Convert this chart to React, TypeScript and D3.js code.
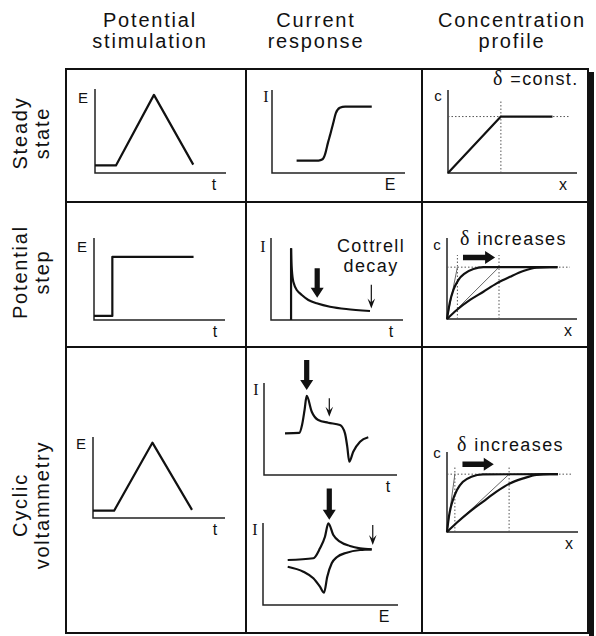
import React from "react";
import * as d3 from "d3";

// ---------- text ----------
const headers = [["Potential", "stimulation"], ["Current", "response"], ["Concentration", "profile"]];
const rowLabels = [["Steady", "state"], ["Potential", "step"], ["Cyclic", "voltammetry"]];

// ---------- data (each mini plot uses a 0..10 by 0..10 domain) ----------
// triangular potential sweep (E vs t)
const sweepT = [0, 1.6, 4.5, 7.5];
const sweepE = [0.9, 0.9, 9.3, 1.0];
// potential step (E vs t)
const stepT = [0, 1.4, 1.4, 7.6];
const stepE = [0.5, 0.5, 7.7, 7.7];
// steady-state sigmoid (I vs E)
const sigE = [1.85, 3.5, 3.8, 4.0, 4.2, 4.4, 4.6, 4.8, 5.1, 5.5, 7.5];
const sigI = [1.5, 1.5, 1.65, 2.3, 3.6, 4.75, 6.0, 7.2, 7.85, 8.0, 8.0];
// steady-state concentration profile
const ssX = [0, 4.1, 8.1];
const ssC = [0, 6.8, 6.8];
const ssDelta = 4.1;
const ssBulk = 6.8;
// Cottrell decay (I vs t)
const cotStepT = 1.52;
const cotT = [1.52, 1.57, 1.69, 1.95, 2.33, 2.83, 3.46, 4.47, 5.7, 7.5];
const cotI = [8.74, 6.3, 4.67, 3.66, 3.05, 2.44, 2.04, 1.62, 1.34, 1.1];
// potential-step concentration profiles
const stepFastX = [0, 0.23, 0.49, 0.87, 1.38, 2.03, 2.8, 8.5];
const stepFastC = [0, 2.14, 3.58, 4.81, 5.64, 6.17, 6.4, 6.4];
const stepSlowX = [0, 0.75, 1.77, 2.8, 3.82, 4.85, 5.87, 6.9, 7.92, 8.5];
const stepSlowC = [0, 1.11, 2.35, 3.37, 4.4, 5.22, 5.93, 6.33, 6.4, 6.4];
const stepDeltas = [0.8, 4.0];
const stepBulk = 6.4;
// cyclic voltammetry current vs time
const cvtT = [1.58, 2.65, 2.86, 3.05, 3.21, 3.59, 4.08, 4.83, 5.71, 6.09, 6.26, 6.41, 6.71, 7.22, 7.84];
const cvtI = [4.53, 4.57, 5.43, 7.07, 8.59, 6.88, 5.98, 5.68, 5.43, 4.53, 3.08, 1.45, 2.53, 3.62, 4.1];
// cyclic voltammogram, forward and reverse branches (I vs E)
const cvFwdE = [1.83, 3.73, 4.22, 4.59, 4.84, 5.21, 5.7, 6.44, 7.19, 8.05];
const cvFwdI = [5.49, 5.7, 6.91, 8.33, 9.96, 8.54, 7.72, 7.2, 6.91, 6.79];
const cvRevE = [1.83, 2.99, 3.73, 4.22, 4.52, 4.76, 5.09, 5.46, 6.2, 7.19, 8.05];
const cvRevI = [4.67, 4.06, 3.26, 2.23, 1.5, 3.45, 5.09, 5.82, 6.38, 6.71, 6.79];
// CV concentration profiles
const cvFastX = [0, 0.15, 0.41, 0.76, 1.22, 1.86, 2.75, 8.47];
const cvFastC = [0, 1.95, 3.8, 5.25, 6.28, 6.9, 7.2, 7.23];
const cvSlowX = [0, 0.72, 1.74, 2.76, 3.78, 4.8, 5.82, 6.84, 7.86, 8.47];
const cvSlowC = [0, 1.12, 2.55, 3.8, 5.04, 6.07, 6.7, 7.15, 7.23, 7.23];
const cvDeltas = [0.6, 4.74];
const cvBulk = 7.23;

// ---------- layout ----------
const W = 596, H = 636;
const colX = [66, 246, 422, 588];
const rowY = [69, 202, 347, 633];
const sans = "'Liberation Sans', Arial, Helvetica, sans-serif";
const serif = "'Liberation Serif', 'Times New Roman', serif";
const INK = "#111";

type Box = { x0: number; y0: number; x1: number; y1: number };
type Pt = [number, number];
const zip = (xs: number[], ys: number[]): Pt[] => xs.map((x, i) => [x, ys[i]]);

const boxes: Record<string, Box> = {
  sweep1: { x0: 95, y0: 173, x1: 226, y1: 89 },
  sig: { x0: 272, y0: 173, x1: 405, y1: 90 },
  ss: { x0: 448, y0: 173, x1: 577, y1: 90 },
  step: { x0: 94, y0: 320, x1: 225, y1: 238 },
  cot: { x0: 271, y0: 320, x1: 403, y1: 238 },
  stepc: { x0: 447, y0: 319, x1: 577, y1: 238 },
  sweep2: { x0: 93, y0: 518, x1: 225, y1: 437 },
  cvt: { x0: 264, y0: 475, x1: 397, y1: 383 },
  cv: { x0: 263, y0: 605, x1: 398, y1: 523 },
  cvc: { x0: 447, y0: 532, x1: 578, y1: 452 },
};

function scales(b: Box) {
  return {
    sx: d3.scaleLinear().domain([0, 10]).range([b.x0, b.x1]),
    sy: d3.scaleLinear().domain([0, 10]).range([b.y0, b.y1]),
  };
}

function linePath(b: Box, pts: Pt[], curve: d3.CurveFactory = d3.curveLinear) {
  const { sx, sy } = scales(b);
  return d3.line<Pt>().x((d) => sx(d[0])).y((d) => sy(d[1])).curve(curve)(pts) || "";
}

function Axes({ b, xl, yl, ySerif, yDx, yDy, xDx = -12 }: { b: Box; xl: string; yl: string; ySerif?: boolean; yDx: number; yDy: number; xDx?: number }) {
  return (
    <g>
      <path d={`M${b.x0},${b.y1}V${b.y0}H${b.x1}`} fill="none" stroke="#222" strokeWidth={1.5} />
      <text x={b.x0 + yDx} y={b.y1 + yDy} textAnchor="middle" fontFamily={ySerif ? serif : sans} fontSize={ySerif ? 16 : 15} fill={INK}>{yl}</text>
      <text x={b.x1 + xDx} y={b.y0 + 17} textAnchor="middle" fontFamily={sans} fontSize={16} fill={INK}>{xl}</text>
    </g>
  );
}

function Curve({ b, pts, curve, w = 2.2, color = INK, dash }: { b: Box; pts: Pt[]; curve?: d3.CurveFactory; w?: number; color?: string; dash?: string }) {
  return <path d={linePath(b, pts, curve)} fill="none" stroke={color} strokeWidth={w} strokeDasharray={dash} strokeLinejoin="round" />;
}

function ThickDown({ b, x, from, to }: { b: Box; x: number; from: number; to: number }) {
  const { sx, sy } = scales(b);
  const cx = sx(x), y0 = sy(from), y1 = sy(to);
  const hl = 10, hw = 6.5, sw = 2.6;
  return <path d={`M${cx - sw},${y0}L${cx + sw},${y0}L${cx + sw},${y1 - hl}L${cx + hw},${y1 - hl}L${cx},${y1}L${cx - hw},${y1 - hl}L${cx - sw},${y1 - hl}Z`} fill={INK} />;
}
function ThickRight({ b, y, from, to }: { b: Box; y: number; from: number; to: number }) {
  const { sx, sy } = scales(b);
  const cy = sy(y), x0 = sx(from), x1 = sx(to);
  const hl = 10, hw = 6.5, sw = 2.8;
  return <path d={`M${x0},${cy - sw}L${x1 - hl},${cy - sw}L${x1 - hl},${cy - hw}L${x1},${cy}L${x1 - hl},${cy + hw}L${x1 - hl},${cy + sw}L${x0},${cy + sw}Z`} fill={INK} />;
}
function ThinDown({ b, x, from, to }: { b: Box; x: number; from: number; to: number }) {
  const { sx, sy } = scales(b);
  const cx = sx(x), y0 = sy(from), y1 = sy(to);
  return (
    <g>
      <line x1={cx} x2={cx} y1={y0} y2={y1 - 4} stroke={INK} strokeWidth={1.2} />
      <path d={`M${cx - 3.8},${y1 - 10}L${cx},${y1}L${cx + 3.8},${y1 - 10}L${cx},${y1 - 6}Z`} fill={INK} />
    </g>
  );
}

function Profile({ b, fast, slow, deltas, bulk, hEnd, vTop }: { b: Box; fast: Pt[]; slow: Pt[]; deltas: number[]; bulk: number; hEnd: number; vTop: number }) {
  return (
    <g>
      <Curve b={b} pts={[[0, bulk], [hEnd, bulk]]} w={1} color="#555" dash="1.5,2" />
      {deltas.map((d, i) => (
        <g key={i}>
          <Curve b={b} pts={[[d, 0], [d, vTop]]} w={1} color="#555" dash="1.5,2" />
          <Curve b={b} pts={[[0, 0], [d, bulk]]} w={1} color="#666" />
        </g>
      ))}
      <Curve b={b} pts={fast} curve={d3.curveMonotoneX} />
      <Curve b={b} pts={slow} curve={d3.curveMonotoneX} />
    </g>
  );
}

function Label({ b, x, y, text, anchor = "start", size = 18 }: { b: Box; x: number; y: number; text: string; anchor?: string; size?: number }) {
  const { sx, sy } = scales(b);
  const hasDelta = text.startsWith("δ");
  return (
    <text x={sx(x)} y={sy(y)} textAnchor={anchor as any} fontFamily={sans} fontSize={size} fill={INK} style={{ letterSpacing: "1.4px" }}>
      {hasDelta ? (
        <>
          <tspan fontFamily={serif} fontSize={size + 2}>δ</tspan>
          <tspan>{text.slice(1)}</tspan>
        </>
      ) : text}
    </text>
  );
}

export default function App() {
  const B = boxes;
  const headerX = [150, 316, 512];
  const rowMid = [133, 272, 505];
  return (
    <svg width={W} height={H} viewBox={`0 0 ${W} ${H}`} style={{ position: "absolute", left: 0, top: 0, background: "#fff" }}>
      <rect width={W} height={H} fill="#fff" />
      {/* headers */}
      {headers.map((h, i) => (
        <text key={i} textAnchor="middle" fontFamily={sans} fontSize={20} fill={INK} style={{ letterSpacing: "1.8px" }}>
          <tspan x={headerX[i]} y={27}>{h[0]}</tspan>
          <tspan x={headerX[i]} y={48}>{h[1]}</tspan>
        </text>
      ))}
      {/* row labels */}
      {rowLabels.map((r, i) => (
        <g key={i} transform={`translate(0,${rowMid[i]}) rotate(-90)`}>
          <text x={0} y={27} textAnchor="middle" fontFamily={sans} fontSize={20} fill={INK} style={{ letterSpacing: "1.8px" }}>{r[0]}</text>
          <text x={0} y={49} textAnchor="middle" fontFamily={sans} fontSize={20} fill={INK} style={{ letterSpacing: "1.8px" }}>{r[1]}</text>
        </g>
      ))}
      {/* grid */}
      {rowY.map((y, i) => (
        <line key={"h" + i} x1={colX[0] - 1} x2={colX[3] + 1} y1={y} y2={y} stroke={INK} strokeWidth={2} />
      ))}
      {colX.map((x, i) => (
        <line key={"v" + i} x1={x} x2={x} y1={rowY[0]} y2={rowY[3]} stroke={INK} strokeWidth={2} />
      ))}
      <rect x={589} y={72} width={5} height={564} fill={INK} />

      {/* Row 1: steady state */}
      <Axes b={B.sweep1} xl="t" yl="E" yDx={-12} yDy={14} />
      <Curve b={B.sweep1} pts={zip(sweepT, sweepE)} />
      <Axes b={B.sig} xl="E" yl="I" ySerif yDx={-6} yDy={12} xDx={-15} />
      <Curve b={B.sig} pts={zip(sigE, sigI)} curve={d3.curveMonotoneX} />
      <Axes b={B.ss} xl="x" yl="c" yDx={-10} yDy={10.5} xDx={-14} />
      <Curve b={B.ss} pts={[[0, ssBulk], [9.45, ssBulk]]} w={1} color="#555" dash="1.5,2" />
      <Curve b={B.ss} pts={[[ssDelta, 0], [ssDelta, 8.8]]} w={1} color="#555" dash="1.5,2" />
      <Curve b={B.ss} pts={zip(ssX, ssC)} />
      <Label b={B.ss} x={3.49} y={10.6} text="δ =const." />

      {/* Row 2: potential step */}
      <Axes b={B.step} xl="t" yl="E" yDx={-12} yDy={14} xDx={-10} />
      <Curve b={B.step} pts={zip(stepT, stepE)} />
      <Axes b={B.cot} xl="t" yl="I" ySerif yDx={-8} yDy={14} />
      <Curve b={B.cot} pts={[[cotStepT, 0], [cotStepT, cotI[0]]]} />
      <Curve b={B.cot} pts={zip(cotT, cotI)} curve={d3.curveCatmullRom.alpha(0.5)} />
      <ThickDown b={B.cot} x={3.5} from={6.3} to={2.7} />
      <ThinDown b={B.cot} x={7.6} from={4.3} to={1.4} />
      <Label b={B.cot} x={7.58} y={8.33} text="Cottrell" anchor="middle" />
      <Label b={B.cot} x={7.58} y={5.85} text="decay" anchor="middle" />
      <Axes b={B.stepc} xl="x" yl="c" yDx={-10} yDy={12} xDx={-9} />
      <Profile b={B.stepc} fast={zip(stepFastX, stepFastC)} slow={zip(stepSlowX, stepSlowC)} deltas={stepDeltas} bulk={stepBulk} hEnd={9.46} vTop={7.9} />
      <ThickRight b={B.stepc} y={7.6} from={1.23} to={3.7} />
      <Label b={B.stepc} x={1.0} y={9.14} text="δ increases" />

      {/* Row 3: cyclic voltammetry */}
      <Axes b={B.sweep2} xl="t" yl="E" yDx={-12} yDy={12} xDx={-10} />
      <Curve b={B.sweep2} pts={zip(sweepT, sweepE)} />
      <Axes b={B.cvt} xl="t" yl="I" ySerif yDx={-8} yDy={12} xDx={-9} />
      <Curve b={B.cvt} pts={zip(cvtT, cvtI)} curve={d3.curveMonotoneX} />
      <ThickDown b={B.cvt} x={3.21} from={12.5} to={9.24} />
      <ThinDown b={B.cvt} x={4.91} from={8.34} to={6.34} />
      <Axes b={B.cv} xl="E" yl="I" ySerif yDx={-8} yDy={12} xDx={-14} />
      <Curve b={B.cv} pts={zip(cvFwdE, cvFwdI)} curve={d3.curveMonotoneX} />
      <Curve b={B.cv} pts={zip(cvRevE, cvRevI)} curve={d3.curveMonotoneX} />
      <ThickDown b={B.cv} x={4.91} from={14.2} to={10.4} />
      <ThinDown b={B.cv} x={8.13} from={9.76} to={7.32} />
      <Axes b={B.cvc} xl="x" yl="c" yDx={-10} yDy={6} xDx={-9} />
      <Profile b={B.cvc} fast={zip(cvFastX, cvFastC)} slow={zip(cvSlowX, cvSlowC)} deltas={cvDeltas} bulk={cvBulk} hEnd={9.6} vTop={8.1} />
      <ThickRight b={B.cvc} y={8.47} from={1.18} to={3.57} />
      <Label b={B.cvc} x={0.77} y={10.1} text="δ increases" />
    </svg>
  );
}
